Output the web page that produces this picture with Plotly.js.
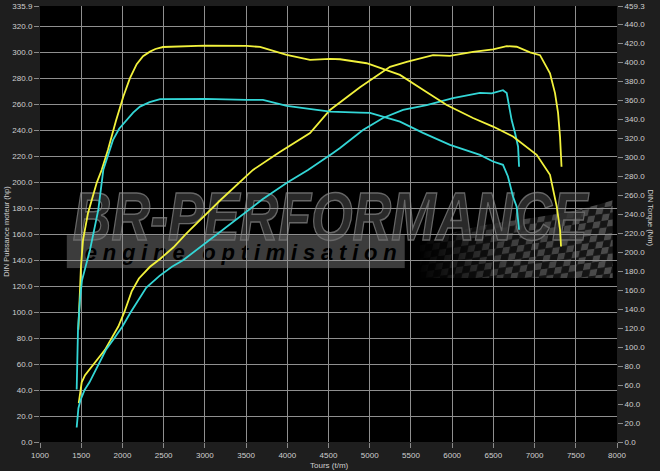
<!DOCTYPE html>
<html>
<head>
<meta charset="utf-8">
<script src="https://cdn.plot.ly/plotly-3.0.1.min.js"></script>
<style>html,body{margin:0;padding:0;background:#1e1e1e;}#chart{width:660px;height:471px;}</style>
</head>
<body>
<div id="chart"></div>
<script>
// Yellow power (hp, left axis)
const yellowPowerRpm = [1470,1485,1506,1546,1600,1667,1788,1869,1950,2023,2070,2112,2200,2334,2456,2620,2760,2820,3200,3584,3900,4276,4518,4882,5246,5449,5768,5974,6253,6496,6662,6783,6945,7066,7187,7248,7285,7309,7327];
const yellowPowerHp  = [30,38,46,51.5,56,61,71,80,89,100,109,116,126,135,141,150,159.6,163.5,187,209.6,223,238,255.8,273.3,289,292.9,298,297.5,300.6,302.5,305,304.5,300.2,298,284,268.8,253.5,235,212];

// Cyan power (hp, left axis)
const cyanPowerRpm = [1445,1455,1466,1490,1540,1600,1707,1800,1901,2000,2100,2200,2290,2450,2600,2735,2940,3143,3400,3700,4000,4251,4555,4640,4918,5161,5404,5691,6010,6338,6480,6617,6662,6722,6763,6800,6812];
const cyanPowerHp  = [11.2,20,26,32,40,46,60,71,80,89,100,110,119,128,135,140,150,160,173,187,200,209.6,222.7,226.5,240.4,249.6,255.8,259.6,265,269,268.6,271,268.8,248,238,227.5,212];

// Yellow torque (Nm, right axis)
const yellowTorqueRpm = [1465,1485,1497,1522,1582,1688,1749,1825,1920,2011,2090,2173,2250,2334,2400,2492,3002,3508,3669,3993,4276,4518,4640,4963,5367,5646,5934,6253,6496,6738,7026,7187,7269,7309,7321];
const yellowTorqueNm  = [118.4,160.5,184.7,213,241,273,286.8,307.8,338,363.9,383,398,406.5,411.2,414,416.1,417.5,417.2,416.2,407.7,402.5,403.5,403.2,399,386.7,371,355,341.3,332.3,321.8,302.5,281.5,248,223.6,206];

// Cyan torque (Nm, right axis)
const cyanTorqueRpm = [1445,1452,1461,1485,1509,1607,1707,1768,1849,1886,1960,2052,2130,2213,2330,2456,3002,3508,3705,3993,4276,4518,4882,5003,5367,5646,5974,6338,6496,6617,6677,6738,6783,6812];
const cyanTorqueNm  = [55.2,86.8,118.4,150,170,202.6,244.6,286.7,307.8,318.3,330,339.3,347,353.3,358,361.1,361.4,360.4,360.4,354,350.6,348,347,346.7,337.5,325.7,313,302.5,295.5,292,279.7,258.6,248,223.6];

// Axis ticks
const xTicks = [1000,1500,2000,2500,3000,3500,4000,4500,5000,5500,6000,6500,7000,7500,8000];
const leftTicks = [0,20,40,60,80,100,120,140,160,180,200,220,240,260,280,300,320,335.9];
const rightTicks = [0,20,40,60,80,100,120,140,160,180,200,220,240,260,280,300,320,340,360,380,400,420,440,459.3];

const YELLOW = '#f2f23c';
const CYAN = '#33d6d6';
const lineStyle = c => ({color: c, width: 1.8, shape: 'linear'});

const traces = [
  {x: yellowTorqueRpm, y: yellowTorqueNm, yaxis: 'y2', type: 'scatter', mode: 'lines', line: lineStyle(YELLOW)},
  {x: cyanTorqueRpm, y: cyanTorqueNm, yaxis: 'y2', type: 'scatter', mode: 'lines', line: lineStyle(CYAN)},
  {x: yellowPowerRpm, y: yellowPowerHp, type: 'scatter', mode: 'lines', line: lineStyle(YELLOW)},
  {x: cyanPowerRpm, y: cyanPowerHp, type: 'scatter', mode: 'lines', line: lineStyle(CYAN)}
];

// watermark as svg image
const svg = `<svg xmlns="http://www.w3.org/2000/svg" width="550" height="93" viewBox="0 0 550 93" preserveAspectRatio="none">
<defs>
<pattern id="chk" width="14" height="14" patternUnits="userSpaceOnUse" patternTransform="skewX(-20) rotate(-8)">
<rect width="7" height="7" fill="#5a5a5a"/><rect x="7" y="7" width="7" height="7" fill="#5a5a5a"/>
<rect x="7" width="7" height="7" fill="#1a1a1a"/><rect y="7" width="7" height="7" fill="#1a1a1a"/>
</pattern>
<linearGradient id="fade" x1="0" y1="0" x2="1" y2="0">
<stop offset="0" stop-color="#fff" stop-opacity="0"/><stop offset="0.45" stop-color="#fff" stop-opacity="0.8"/><stop offset="1" stop-color="#fff" stop-opacity="1"/>
</linearGradient>
<mask id="m"><rect x="350" y="0" width="200" height="93" fill="url(#fade)"/></mask>
</defs>
<path d="M355,60 C420,30 470,40 548,15 L548,93 L355,93 Z" fill="url(#chk)" mask="url(#m)" opacity="0.85"/>
<text x="8" y="55" font-family="Liberation Sans, Arial, sans-serif" font-weight="bold" font-style="italic" font-size="68" textLength="515" lengthAdjust="spacingAndGlyphs" fill="#333" fill-opacity="0.8" stroke="#666" stroke-width="1.5">BR-PERFORMANCE</text>
<rect x="2" y="50" width="338" height="33" fill="#6e6e6e" fill-opacity="0.55"/>
<text x="20" y="75" font-family="Liberation Sans, Arial, sans-serif" font-weight="bold" font-style="italic" font-size="22" textLength="312" lengthAdjust="spacing" fill="#000">engine optimisation</text>
</svg>`;
const svgUri = 'data:image/svg+xml;charset=utf-8,' + encodeURIComponent(svg);

const FONT = 'Liberation Sans, Arial, sans-serif';
const tickFont = {family: FONT, size: 8, color: '#cfcfcf'};

const layout = {
  width: 660, height: 471,
  margin: {l: 40, r: 43, t: 6, b: 29, pad: 0},
  paper_bgcolor: '#1e1e1e',
  plot_bgcolor: '#000000',
  showlegend: false,
  xaxis: {
    range: [1000, 8000], tickvals: xTicks, ticktext: xTicks.map(String),
    showgrid: true, gridcolor: '#8f8f8f', gridwidth: 1, zeroline: false, showline: false,
    ticks: 'outside', ticklen: 5, tickcolor: '#8a8a8a', tickfont: tickFont
  },
  yaxis: {
    range: [0, 335.9], tickvals: leftTicks, ticktext: leftTicks.map(v => v.toFixed(1)),
    showgrid: true, gridcolor: '#8f8f8f', gridwidth: 1, zeroline: false, showline: false,
    ticks: 'outside', ticklen: 5, tickcolor: '#8a8a8a', tickfont: tickFont
  },
  yaxis2: {
    range: [0, 459.3], overlaying: 'y', side: 'right',
    tickvals: rightTicks, ticktext: rightTicks.map(v => v.toFixed(1)),
    showgrid: false, zeroline: false, showline: false,
    ticks: 'outside', ticklen: 5, tickcolor: '#8a8a8a', tickfont: tickFont
  },
  images: [{
    source: svgUri, xref: 'paper', yref: 'paper',
    x: 0.043, y: 0.589, sizex: 0.953, sizey: 0.213,
    xanchor: 'left', yanchor: 'top', sizing: 'stretch', layer: 'below', opacity: 1
  }],
  annotations: [
    {text: 'DIN Puissance moteur (hp)', xref: 'paper', yref: 'paper', x: -0.0575, y: 0.484, textangle: -90,
     xanchor: 'center', yanchor: 'middle',
     showarrow: false, font: {family: FONT, size: 7.5, color: '#cfcfcf'}},
    {text: 'DIN Torque (Nm)', xref: 'paper', yref: 'paper', x: 1.058, y: 0.514, textangle: 90,
     xanchor: 'center', yanchor: 'middle',
     showarrow: false, font: {family: FONT, size: 7.5, color: '#cfcfcf'}},
    {text: 'Tours (t/m)', xref: 'paper', yref: 'paper', x: 0.501, y: -0.0528, yanchor: 'middle',
     showarrow: false, font: {family: FONT, size: 8, color: '#cfcfcf'}}
  ]
};

Plotly.newPlot('chart', traces, layout, {displayModeBar: false, staticPlot: true});
</script>
</body>
</html>
